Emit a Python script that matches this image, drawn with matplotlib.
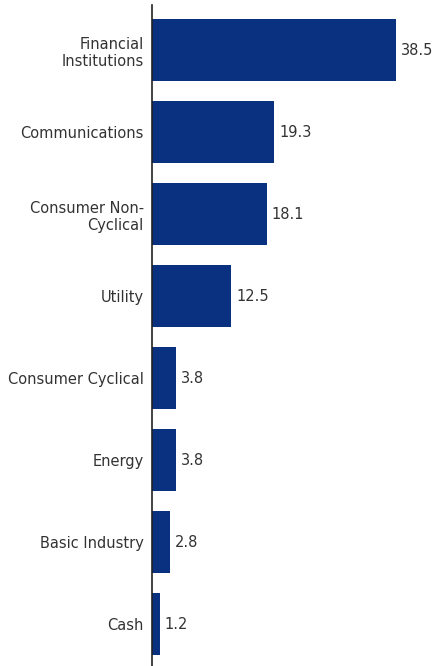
import numpy as np
import matplotlib.pyplot as plt

# Sector weights (%)
sectors = ["Financial\nInstitutions", "Communications", "Consumer Non-\nCyclical",
           "Utility", "Consumer Cyclical", "Energy", "Basic Industry", "Cash"]
weights = [38.5, 19.3, 18.1, 12.5, 3.8, 3.8, 2.8, 1.2]

plt.rcParams['font.family'] = ['DejaVu Sans']

fig = plt.figure(figsize=(4.4, 6.66), dpi=100)
ax = fig.add_axes([152 / 440, 0, 285 / 440, 661 / 666])

y = np.arange(len(sectors))
ax.barh(y, weights, height=0.756, color='#0a3180')

for yi, w in zip(y, weights):
    ax.text(w + 0.8, yi, f'{w:.1f}', va='center', ha='left', fontsize=10.5, color='#333333')

ax.set_yticks(y)
ax.set_yticklabels(sectors, fontsize=10.5, color='#333333', ha='right', multialignment='right')
ax.tick_params(axis='y', length=0, pad=6)
ax.set_xticks([])
ax.set_xlim(0, 45)
ax.set_ylim(7.51, -0.55)

for s in ['top', 'right', 'bottom']:
    ax.spines[s].set_visible(False)
ax.spines['left'].set_color('#222222')
ax.spines['left'].set_linewidth(1.2)

fig.savefig('out.png', dpi=100)
